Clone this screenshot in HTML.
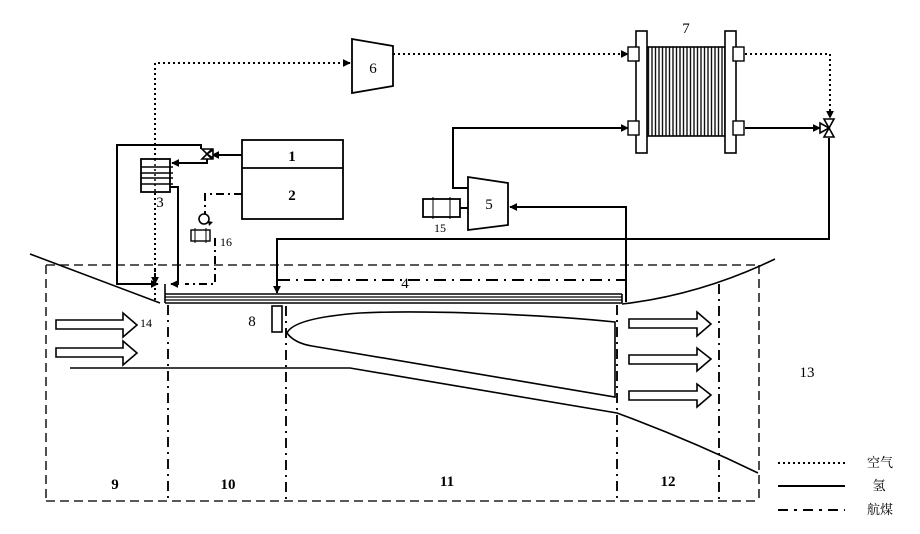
<!DOCTYPE html>
<html><head><meta charset="utf-8"><style>
html,body{margin:0;padding:0;background:#fff;}
svg{display:block;}
text{font-family:"Liberation Serif","Noto Serif CJK SC",serif;fill:#000;}
</style></head><body>
<svg width="920" height="534" viewBox="0 0 920 534" xmlns="http://www.w3.org/2000/svg">
<defs>
<marker id="ar" viewBox="0 0 10 10" refX="9" refY="5" markerWidth="8" markerHeight="8" markerUnits="userSpaceOnUse" orient="auto">
<path d="M0,0 L10,5 L0,10 z" fill="#000"/>
</marker>
<pattern id="stack" width="3.5" height="10" patternUnits="userSpaceOnUse">
<rect width="3.5" height="10" fill="#fff"/>
<line x1="1" y1="0" x2="1" y2="10" stroke="#111" stroke-width="1.4"/>
</pattern>
</defs>

<!-- Engine boundary dashed -->
<g fill="none" stroke="#222" stroke-width="1.6" stroke-dasharray="9 5">
<line x1="46" y1="265" x2="758" y2="265"/>
<line x1="46" y1="501" x2="758" y2="501"/>
<line x1="46" y1="265" x2="46" y2="501"/>
<line x1="759" y1="265" x2="759" y2="501"/>
</g>
<!-- Section dividers -->
<g fill="none" stroke="#111" stroke-width="2" stroke-dasharray="10 5 2 5">
<line x1="168" y1="305" x2="168" y2="500"/>
<line x1="286" y1="306" x2="286" y2="500"/>
<line x1="617" y1="305" x2="617" y2="500"/>
<line x1="719" y1="284" x2="719" y2="500"/>
</g>

<!-- Nacelle outer -->
<g fill="none" stroke="#000" stroke-width="1.6">
<path d="M30,254 L160,303"/>
<path d="M622,304 Q700,295 775,259"/>
<!-- inner wall -->
<path d="M70,368 L350,368 L617,413 Q690,440 758,473"/>
<!-- spike -->
<path d="M615,322 C540,314 420,310 360,313 C320,316 292,322 287,333 C292,340 300,344 312,346 L615,397 Z"/>
</g>

<!-- cooling jacket -->
<g fill="none" stroke="#000">
<line x1="165" y1="294" x2="622" y2="294" stroke-width="1.6"/>
<line x1="165" y1="297" x2="622" y2="297" stroke-width="1.2"/>
<line x1="165" y1="300" x2="622" y2="300" stroke-width="1.2"/>
<line x1="165" y1="303" x2="622" y2="303" stroke-width="1.6"/>
<line x1="165" y1="284" x2="165" y2="303" stroke-width="1.6"/>
<line x1="622" y1="294" x2="622" y2="303" stroke-width="1.6"/>
</g>

<!-- injector 8 -->
<rect x="272" y="306" width="10" height="26" fill="#fff" stroke="#000" stroke-width="1.6"/>

<!-- block arrows -->
<g fill="#fff" stroke="#000" stroke-width="1.6">
<path d="M56,320 H123 V313 L137,325 L123,337 V329 H56 Z"/>
<path d="M56,348 H123 V341 L137,353 L123,365 V357 H56 Z"/>
<path d="M629,319 H697 V312 L711,324 L697,336 V328 H629 Z"/>
<path d="M629,355 H697 V348 L711,359 L697,371 V364 H629 Z"/>
<path d="M629,391 H697 V384 L711,395 L697,407 V400 H629 Z"/>
</g>

<!-- Air lines (dotted) -->
<g fill="none" stroke="#000" stroke-width="2" stroke-dasharray="2 3">
<path d="M155,300 V63 H350" marker-end="url(#ar)"/>
<path d="M393,54 H628" marker-end="url(#ar)"/>
<path d="M745,54 H830 V118" marker-end="url(#ar)"/>
<path d="M155,270 V284" marker-end="url(#ar)"/>
</g>

<!-- Hydrogen lines (solid) -->
<g fill="none" stroke="#000" stroke-width="2">
<path d="M242,155 H212" marker-end="url(#ar)"/>
<path d="M207,159 V163 H172" marker-end="url(#ar)"/>
<path d="M201,149 V145 H117 V284 H158" marker-end="url(#ar)"/>
<path d="M170,187 H178 V284 H171" marker-end="url(#ar)"/>
<path d="M626,302 V207 H510" marker-end="url(#ar)"/>
<path d="M468,188 H453 V128 H628" marker-end="url(#ar)"/>
<path d="M745,128 H820" marker-end="url(#ar)"/>
<path d="M829,138 V239 H277 V293" marker-end="url(#ar)"/>
<path d="M460,208 H468"/>
</g>

<!-- Kerosene lines (dash-dot) -->
<g fill="none" stroke="#000" stroke-width="2" stroke-dasharray="8 4 2 4">
<path d="M242,194 H205 V214"/>
<path d="M215,238 V284 H185"/>
<path d="M278,280 H626" stroke-dasharray="12 6 2 6"/>
</g>

<!-- Tank 1/2 -->
<rect x="242" y="140" width="101" height="79" fill="#fff" stroke="#000" stroke-width="1.8"/>
<line x1="242" y1="168" x2="343" y2="168" stroke="#000" stroke-width="1.8"/>

<!-- valve near tank -->
<g fill="#fff" stroke="#000" stroke-width="1.6">
<path d="M202,149 L212,149 L207,154 Z"/>
<path d="M202,159 L212,159 L207,154 Z"/>
<path d="M213,150 L213,158 L207,154 Z"/>
</g>

<!-- Heat exchanger 3 -->
<rect x="141" y="159" width="29" height="33" fill="#fff" stroke="#000" stroke-width="1.8"/>
<g stroke="#000" stroke-width="1.4">
<line x1="141" y1="167" x2="173" y2="167"/>
<line x1="141" y1="173" x2="173" y2="173"/>
<line x1="141" y1="178" x2="173" y2="178"/>
<line x1="141" y1="184" x2="173" y2="184"/>
</g>
<line x1="155" y1="159" x2="155" y2="192" stroke="#000" stroke-width="1.5" stroke-dasharray="2 3"/>

<!-- pump 16 -->
<circle cx="204" cy="219" r="5" fill="#fff" stroke="#000" stroke-width="1.6"/>
<path d="M208,221 L213,222 L209,226 Z" fill="#000"/>
<rect x="191" y="230" width="19" height="11" fill="#fff" stroke="#000" stroke-width="1.4"/>
<line x1="195" y1="228" x2="195" y2="243" stroke="#000" stroke-width="1"/>
<line x1="206" y1="228" x2="206" y2="243" stroke="#000" stroke-width="1"/>

<!-- compressor 6 -->
<polygon points="352,39 393,46 393,86 352,93" fill="#fff" stroke="#000" stroke-width="1.8"/>
<!-- compressor 5 -->
<polygon points="468,177 508,183 508,225 468,230" fill="#fff" stroke="#000" stroke-width="1.8"/>
<!-- motor 15 -->
<rect x="423" y="199" width="37" height="18" fill="#fff" stroke="#000" stroke-width="1.8"/>
<line x1="433" y1="197" x2="433" y2="219" stroke="#000" stroke-width="1"/>
<line x1="450" y1="197" x2="450" y2="219" stroke="#000" stroke-width="1"/>

<!-- Fuel cell 7 -->
<rect x="647" y="47" width="78" height="89" fill="url(#stack)" stroke="#000" stroke-width="1.6"/>
<rect x="636" y="31" width="11" height="122" fill="#fff" stroke="#000" stroke-width="1.6"/>
<rect x="725" y="31" width="11" height="122" fill="#fff" stroke="#000" stroke-width="1.6"/>
<g fill="#fff" stroke="#000" stroke-width="1.4">
<rect x="628" y="47" width="11" height="14"/>
<rect x="628" y="121" width="11" height="14"/>
<rect x="733" y="47" width="11" height="14"/>
<rect x="733" y="121" width="11" height="14"/>
</g>

<!-- valve right -->
<g fill="#fff" stroke="#000" stroke-width="1.6">
<path d="M824,119 L834,119 L829,128 Z"/>
<path d="M824,137 L834,137 L829,128 Z"/>
<path d="M820,123 L820,133 L829,128 Z"/>
</g>

<!-- Labels -->
<g font-size="15">
<text x="292" y="161" text-anchor="middle" font-weight="bold">1</text>
<text x="292" y="200" text-anchor="middle" font-weight="bold">2</text>
<text x="160" y="207" text-anchor="middle">3</text>
<text x="405" y="288" text-anchor="middle">4</text>
<text x="489" y="209" text-anchor="middle">5</text>
<text x="373" y="73" text-anchor="middle">6</text>
<text x="686" y="33" text-anchor="middle">7</text>
<text x="252" y="326" text-anchor="middle">8</text>
<text x="807" y="377" text-anchor="middle">13</text>
</g>
<g font-size="12">
<text x="146" y="327" text-anchor="middle">14</text>
<text x="440" y="232" text-anchor="middle">15</text>
<text x="226" y="246" text-anchor="middle">16</text>
</g>
<g font-size="15" font-weight="bold">
<text x="115" y="489" text-anchor="middle">9</text>
<text x="228" y="489" text-anchor="middle">10</text>
<text x="447" y="486" text-anchor="middle">11</text>
<text x="668" y="486" text-anchor="middle">12</text>
</g>

<!-- Legend -->
<line x1="778" y1="463" x2="845" y2="463" stroke="#000" stroke-width="2" stroke-dasharray="2 3"/>
<line x1="778" y1="486" x2="845" y2="486" stroke="#000" stroke-width="2"/>
<line x1="778" y1="510" x2="845" y2="510" stroke="#000" stroke-width="2" stroke-dasharray="10 6 3 6"/>
<g font-size="13" style="font-family:'Liberation Serif','Noto Serif CJK SC','Noto Sans CJK SC',serif">
<text x="880" y="467" text-anchor="middle">空气</text>
<text x="879" y="490" text-anchor="middle">氢</text>
<text x="880" y="514" text-anchor="middle">航煤</text>
</g>
</svg>
</body></html>
